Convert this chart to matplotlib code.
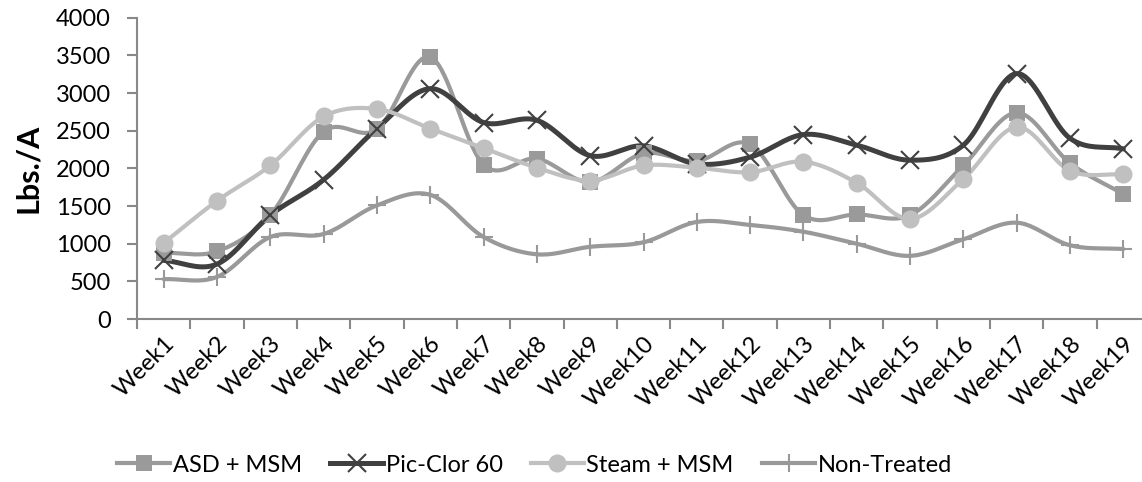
import numpy as np
import matplotlib
matplotlib.use("Agg")
import matplotlib.pyplot as plt
from matplotlib.lines import Line2D

weeks = ["Week%d" % i for i in range(1, 20)]

asd_msm = [880, 900, 1380, 2490, 2520, 3480, 2050, 2130, 1820, 2200, 2100, 2320,
           1380, 1390, 1380, 2040, 2740, 2070, 1660]
pic_clor = [780, 730, 1380, 1850, 2530, 3060, 2610, 2640, 2170, 2300, 2060, 2150,
            2450, 2310, 2110, 2310, 3260, 2400, 2260]
steam_msm = [1010, 1570, 2040, 2690, 2790, 2530, 2270, 2010, 1840, 2040, 2010, 1950,
             2090, 1810, 1330, 1860, 2550, 1970, 1920]
non_treated = [530, 560, 1090, 1130, 1510, 1650, 1090, 860, 960, 1020, 1290, 1250,
               1160, 1000, 840, 1060, 1280, 980, 930]

names = ["ASD + MSM", "Pic-Clor 60", "Steam + MSM", "Non-Treated"]
colors = ["#9a9a9a", "#404040", "#c0c0c0", "#999999"]
markers = ["s", "x", "o", "+"]
msizes = [12, 13, 13, 13]
lwidths = [3.0, 3.6, 3.0, 3.0]


def smooth(x, y, n=20):
    # Catmull-Rom curve through the points, like Excel's smoothed line
    x = np.asarray(x, float)
    y = np.asarray(y, float)
    px = np.concatenate([[2 * x[0] - x[1]], x, [2 * x[-1] - x[-2]]])
    py = np.concatenate([[2 * y[0] - y[1]], y, [2 * y[-1] - y[-2]]])
    xs, ys = [], []
    t = np.linspace(0, 1, n)
    for i in range(1, len(px) - 2):
        for p, out in ((px, xs), (py, ys)):
            p0, p1, p2, p3 = p[i - 1], p[i], p[i + 1], p[i + 2]
            out.extend(0.5 * (2 * p1 + (-p0 + p2) * t
                              + (2 * p0 - 5 * p1 + 4 * p2 - p3) * t ** 2
                              + (-p0 + 3 * p1 - 3 * p2 + p3) * t ** 3))
    return np.array(xs), np.array(ys)


plt.rcParams["font.family"] = ["Lato", "DejaVu Sans"]

fig = plt.figure(figsize=(11.42, 4.82), dpi=100)
ax = fig.add_axes([0.12, 0.338, 0.887, 0.625])

x = np.arange(1, 20)
series = [asd_msm, pic_clor, steam_msm, non_treated]
handles = []
for vals, name, c, m, ms, lw in zip(series, names, colors, markers, msizes, lwidths):
    sx, sy = smooth(x, vals)
    ax.plot(sx, sy, color=c, lw=lw, solid_capstyle="round", zorder=2)
    mew = 1.5 if m in ("x", "+") else 0
    ax.plot(x, vals, ls="none", marker=m, ms=ms, color=c, mec=c, mew=mew, zorder=3)
    handles.append(Line2D([], [], color=c, lw=lw, marker=m, ms=ms, mec=c, mew=mew))

ax.set_xlim(0.5, 19.5)
ax.set_ylim(0, 4000)
ax.set_yticks(range(0, 4001, 500))
ax.tick_params(axis="y", labelsize=17, length=7, width=1.5, color="#888888",
               direction="out", pad=12)
ax.set_xticks(np.arange(0.5, 19.6, 1))
ax.set_xticklabels([])
ax.set_xticks(x, minor=True)
ax.set_xticklabels(weeks, minor=True, rotation=45, ha="right", va="top",
                   rotation_mode="anchor", fontsize=17)
ax.tick_params(axis="x", which="major", length=7, width=1.5, color="#888888")
ax.tick_params(axis="x", which="minor", length=0, pad=10)

for s in ["top", "right"]:
    ax.spines[s].set_visible(False)
for s in ["left", "bottom"]:
    ax.spines[s].set_color("#888888")
    ax.spines[s].set_linewidth(1.5)

ax.set_ylabel("Lbs./A", fontsize=22, fontweight="bold", labelpad=10)

fig.legend(handles, names, loc="center", bbox_to_anchor=(0.468, 0.035), ncol=4,
           frameon=False, fontsize=17, handlelength=2.25, columnspacing=1.2,
           handletextpad=0.1)

fig.savefig("out.png", dpi=100)
